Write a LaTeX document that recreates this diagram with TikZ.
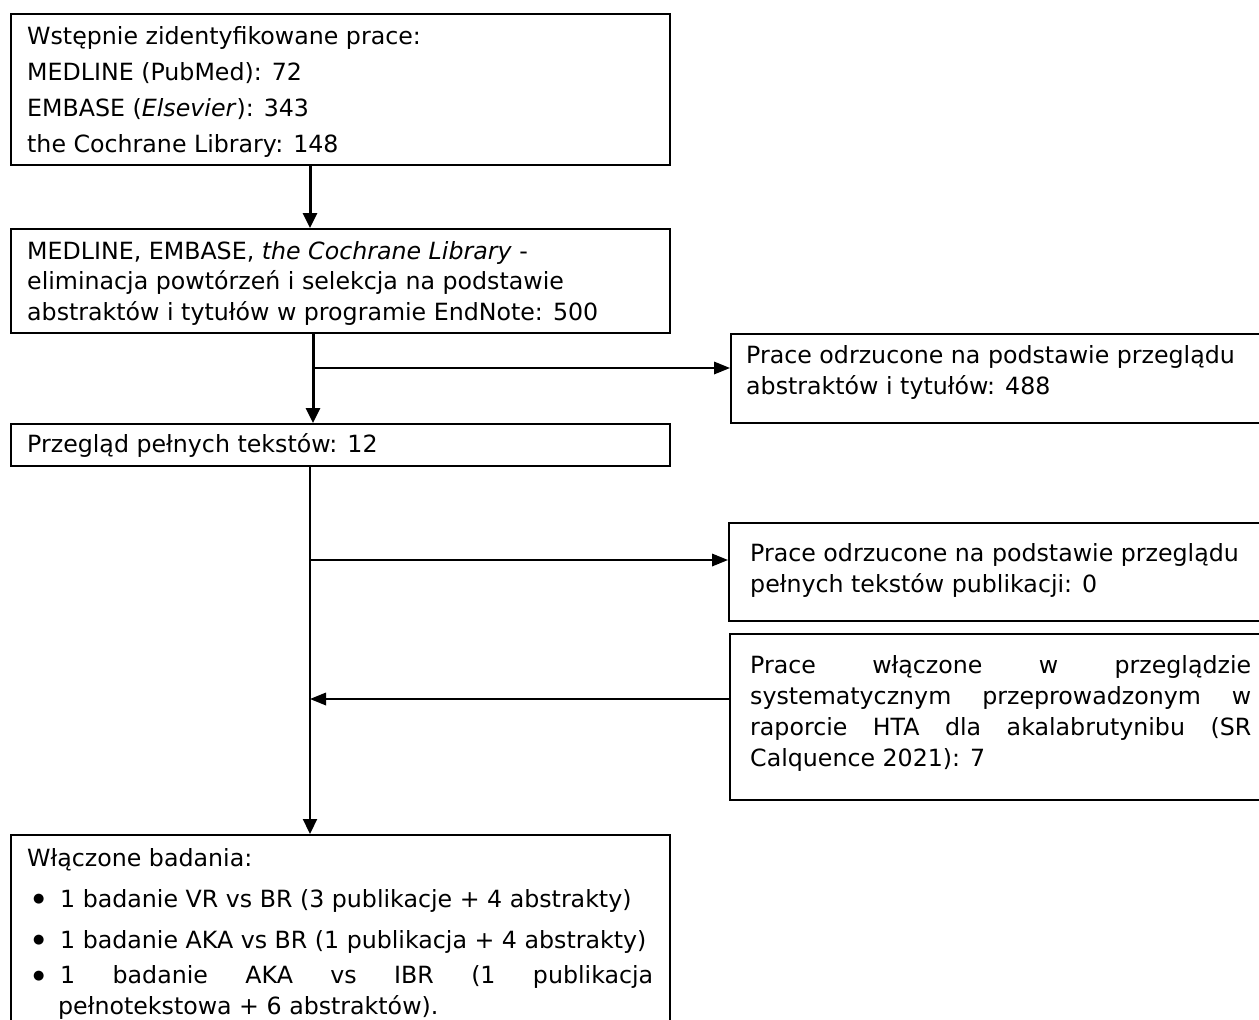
\documentclass[tikz,border=0pt]{standalone}
\usepackage{fontspec}
\setmainfont{DejaVu Sans}
\usetikzlibrary{arrows.meta}
\newcommand{\mybul}{\raisebox{4.5pt}{\fontsize{13}{13}\selectfont ●}}
\begin{document}
\begin{tikzpicture}[x=1pt,y=-1pt,
  box/.style={draw,line width=1.7pt,rectangle,anchor=north west,inner sep=0pt},
  txt/.style={anchor=base west,inner sep=0pt,font=\fontsize{23.7}{31}\selectfont},
  bigarrow/.style={-{Triangle[width=14pt,length=15pt]},line width=3pt},
  midarrow/.style={-{Triangle[width=14pt,length=15pt]},line width=2.2pt},
  smallarrow/.style={-{Triangle[width=12.5pt,length=16pt]},line width=1.8pt}]
\clip (0,0) rectangle (1259,1020);
\fill[white] (0,0) rectangle (1259,1020);
% boxes
\node[box,minimum width=659pt,minimum height=151pt] (b1) at (10,13) {};
\node[box,minimum width=659pt,minimum height=104pt] (b2) at (10,228) {};
\node[box,minimum width=659pt,minimum height=42pt] (b3) at (10,423) {};
\node[box,minimum width=659pt,minimum height=200pt] (b4) at (10,834) {};
\node[box,minimum width=545pt,minimum height=89pt] (r1) at (730,333) {};
\node[box,minimum width=545pt,minimum height=98pt] (r2) at (728,522) {};
\node[box,minimum width=545pt,minimum height=166pt] (r3) at (729,633) {};
% texts
\node[txt] (t1) at (27,44.5) {\vtop{\baselineskip=36.1pt
  \hbox{Wstępnie zidentyfikowane prace:}
  \hbox{MEDLINE (PubMed): 72}
  \hbox{EMBASE (\textit{Elsevier}): 343}
  \hbox{the Cochrane Library: 148}}};
\node[txt] (t2) at (27,259) {\vtop{\baselineskip=30.5pt
  \hbox{MEDLINE, EMBASE, \textit{the Cochrane Library} -}
  \hbox{eliminacja powtórzeń i selekcja na podstawie}
  \hbox{abstraktów i tytułów w programie EndNote: 500}}};
\node[txt] (t3) at (27,452) {Przegląd pełnych tekstów: 12};
\node[txt] (tr1) at (746,363) {\vtop{\baselineskip=31pt
  \hbox{Prace odrzucone na podstawie przeglądu}
  \hbox{abstraktów i tytułów: 488}}};
\node[txt] (tr2) at (750,561) {\vtop{\baselineskip=31pt
  \hbox{Prace odrzucone na podstawie przeglądu}
  \hbox{pełnych tekstów publikacji: 0}}};
\node[txt] (tr3) at (750,673) {\vtop{\baselineskip=31pt
  \hbox to 501pt{Prace\hfill włączone\hfill w\hfill przeglądzie}
  \hbox to 501pt{systematycznym\hfill przeprowadzonym\hfill w}
  \hbox to 501pt{raporcie\hfill HTA\hfill dla\hfill akalabrutynibu\hfill (SR}
  \hbox{Calquence 2021): 7}}};
\node[txt] (t4) at (27,866) {\vtop{\baselineskip=30.5pt
  \hbox{Włączone badania:}
  \vskip 10.5pt
  \hbox{\hbox to 33pt{\hskip 6pt\mybul\hfil}1 badanie VR vs BR (3 publikacje + 4 abstrakty)}
  \vskip 10.5pt
  \hbox{\hbox to 33pt{\hskip 6pt\mybul\hfil}1 badanie AKA vs BR (1 publikacja + 4 abstrakty)}
  \vskip 5pt
  \hbox{\hbox to 33pt{\hskip 6pt\mybul\hfil}\hbox to 593pt{1\hfill badanie\hfill AKA\hfill vs\hfill IBR\hfill (1\hfill publikacja}}
  \hbox{\hskip 31pt pełnotekstowa + 6 abstraktów).}}};
% spine coordinates
\coordinate (s1) at (310,0);
\coordinate (s2) at (313,0);
\coordinate (s3) at (310,0);
\coordinate (j1) at (313,368);
\coordinate (j2) at (310,560);
\coordinate (j3) at (310,699);
% connectors
\draw[bigarrow] (b1.south -| s1) -- (b2.north -| s1);
\draw[bigarrow] (b2.south -| s2) -- (b3.north -| s2);
\draw[smallarrow] (j1) -- (j1 -| r1.west);
\draw[midarrow] (b3.south -| s3) -- (b4.north -| s3);
\draw[smallarrow] (j2) -- (j2 -| r2.west);
\draw[smallarrow] (j3 -| r3.west) -- (j3);
\end{tikzpicture}
\end{document}
